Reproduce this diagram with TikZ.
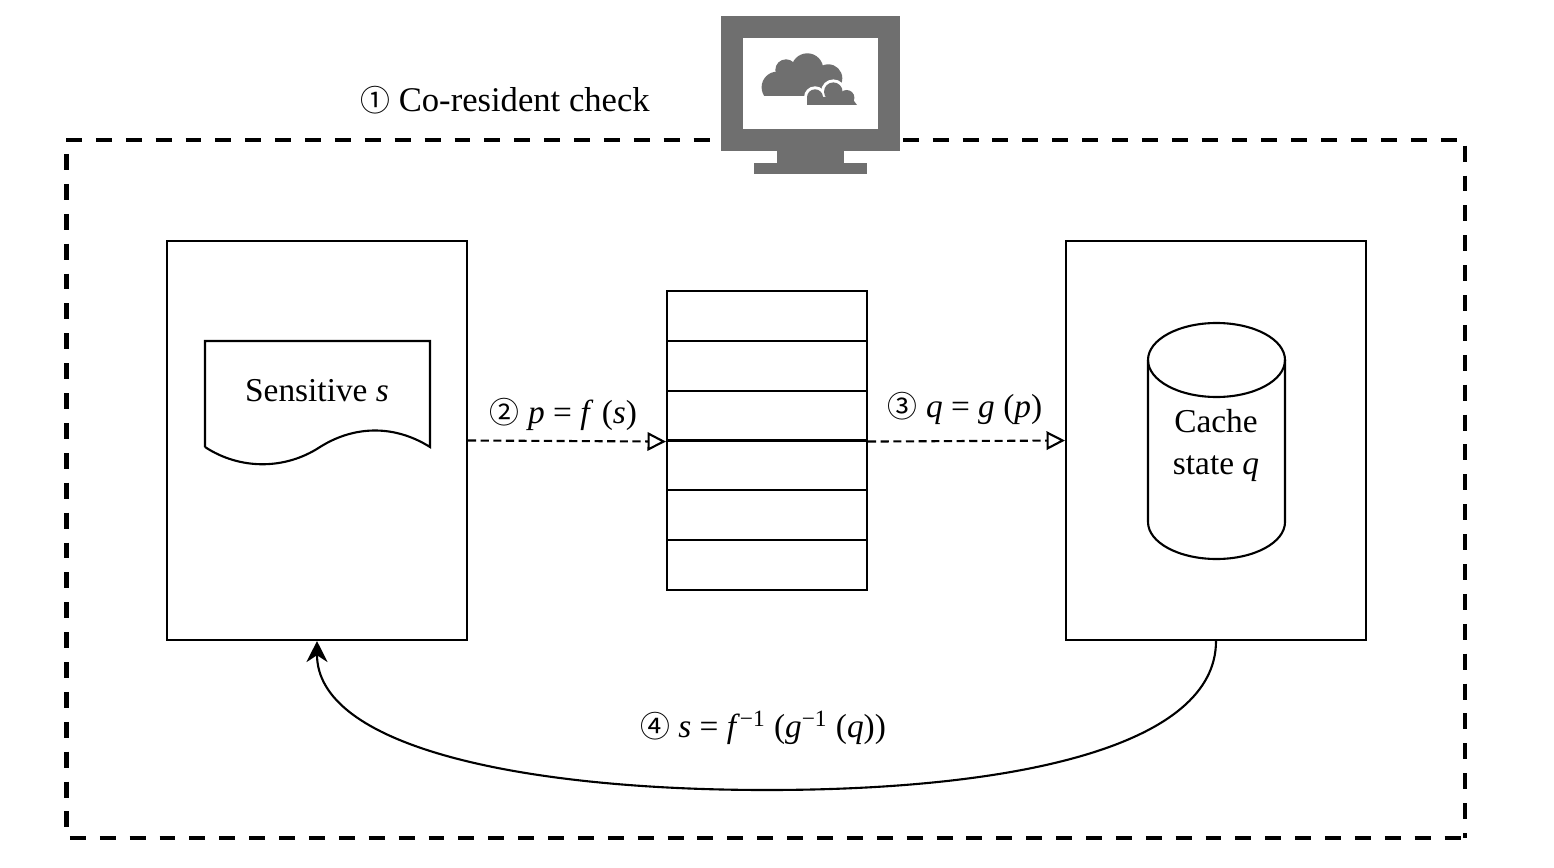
\documentclass[tikz,border=0pt]{standalone}
\usepackage{fontspec}
\setmainfont{Liberation Serif}
\newfontfamily\circfont{Noto Sans CJK SC}
\usetikzlibrary{arrows.meta}
\newcommand{\ci}[1]{{\circfont\fontsize{17}{20}\selectfont #1}}

\begin{document}
\begin{tikzpicture}[x=0.02cm,y=-0.02cm]
\definecolor{Screengray}{HTML}{6F6F6F}
\tikzstyle{box} = [draw, line width=1.2pt, inner sep=0]
\tikzstyle{caption} = [inner sep=0, align=center, font=\fontsize{19}{23}\selectfont]
\tikzstyle{link} = [line width=1.2pt, dash pattern=on 4.6pt off 2.6pt, -{Triangle[open,length=10.5pt,width=10.5pt]}]
\tikzstyle{frame} = [line width=2.8pt, dash pattern=on 9.07pt off 7.94pt]

\useasboundingbox (0,0) rectangle (1554,868);

% frame
\draw[frame] (66,140) -- (1465,140) -- (1465,838);
\draw[frame] (66.5,154) -- (66.5,838) -- (1465,838);

% monitor
\fill[Screengray] (721,16) rectangle (900,151);
\fill[Screengray] (777,151) rectangle (844,163);
\fill[Screengray] (754,163) rectangle (867,174);
\fill[white] (743,38) rectangle (878,129);
\begin{scope}
\clip (750,40) rectangle (870,96);
\fill[Screengray] (777.3,87.3) circle (15.7);
\fill[Screengray] (786,70) circle (10.7);
\fill[Screengray] (807.3,69.3) circle (16);
\fill[Screengray] (828.3,78.3) circle (14);
\fill[Screengray] (777,70) rectangle (830,96);
\end{scope}
\foreach \cx/\cy/\cr in {815/97.3/8, 833.3/91.7/9.3, 846.7/97.7/7.7}
  \fill[white] (\cx,\cy) circle (\cr+3);
\fill[white] (804,97) rectangle (860,105);
\foreach \cx/\cy/\cr in {815/97.3/8, 833.3/91.7/9.3, 846.7/97.7/7.7}
  \fill[Screengray] (\cx,\cy) circle (\cr);
\fill[Screengray] (807,97) rectangle (849,105) -- (857,105) -- (851,97) -- cycle;
\fill[white] (800,105) rectangle (860,112);

\node[caption, font=\fontsize{19.7}{23}\selectfont] (check) at (505,100) {\ci{①} Co-resident check};

% left box
\node[box, minimum width=6cm, minimum height=7.98cm] (left) at (317,440.5) {};
\draw[line width=1.2pt] (205,447) -- (205,341) -- (430,341) -- (430,447)
  .. controls (395,425) and (355,425) .. (320,447)
  .. controls (285,470) and (240,470) .. (205,447);
\node[caption] (sensitive) at (317,391) {Sensitive \textit{s}};

% stack
\foreach \i in {0,...,5}
  \node[box, minimum width=4cm, minimum height=0.998cm] (row\i) at (767,315.75+49.9*\i) {};

% right box
\node[box, minimum width=6cm, minimum height=7.98cm] (right) at (1216,440.5) {};
\draw[line width=1.2pt] (1148,360) arc[start angle=180, end angle=360, x radius=68.5, y radius=37]
  -- (1285,522) arc[start angle=0, end angle=180, x radius=68.5, y radius=37] -- cycle;
\draw[line width=1.2pt] (1148,360) arc[start angle=180, end angle=0, x radius=68.5, y radius=37];
\node[caption] (cache) at (1216,445.5) {Cache\\[0.6pt]state \textit{q}};

\draw[link] (left.east) -- (row2.south west);
\draw[link] (row2.south east) -- (right.west);
\node[caption] (pf) at (563.5,414.5) {\ci{②} \textit{p} = \textit{f} (\textit{s})};
\node[caption] (qg) at (965,408.5) {\ci{③} \textit{q} = \textit{g} (\textit{p})};

\coordinate (low) at (767,790);
\draw[line width=1.2pt, -{Stealth[length=12pt,width=12pt]}] (right.south)
  .. controls (1216,745) and (1020,790) .. (low)
  .. controls (515,790) and (317,745) .. (left.south);
\node[caption] (inv) at (763,728) {\ci{④} \textit{s} = \textit{f}\textsuperscript{−1} (\textit{g}\textsuperscript{−1} (\textit{q}))};

\end{tikzpicture}
\end{document}
